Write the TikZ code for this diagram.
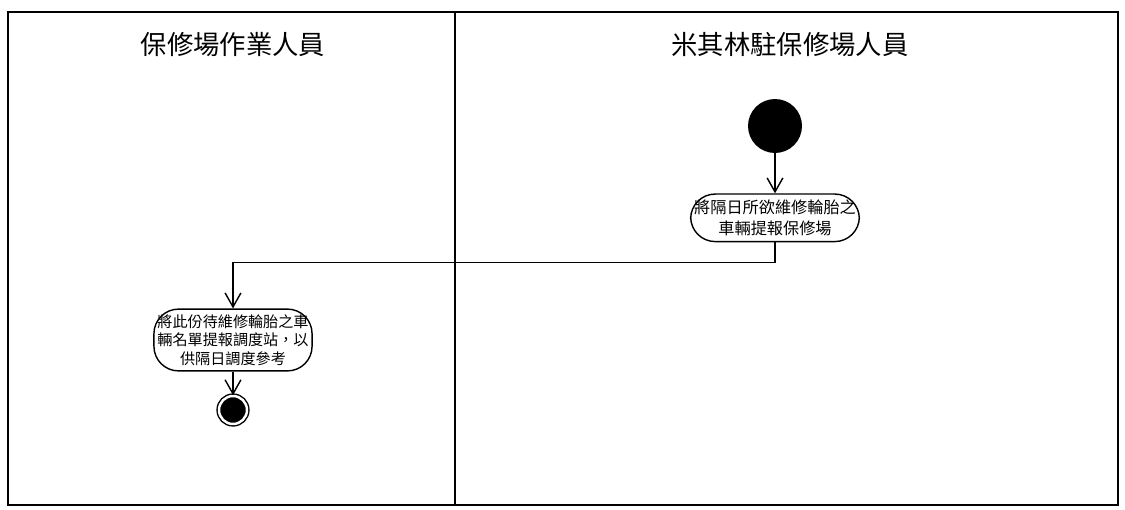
\documentclass[tikz,border=0pt]{standalone}
\usepackage{fontspec}
\newfontfamily\cjk{Noto Sans CJK TC}
\usetikzlibrary{arrows.meta,positioning}

\begin{document}
\begin{tikzpicture}[x=0.02cm,y=-0.02cm,node distance=0.8cm,>={Straight Barb[length=8pt,width=9pt]}]
\tikzset{
  lane/.style={font=\cjk\fontsize{15}{18}\selectfont},
  activity/.style={draw,line width=0.8pt,rounded corners=14pt,align=center,inner xsep=2pt,inner ysep=3pt,font=\cjk\fontsize{9.2}{12.5}\selectfont},
  initial/.style={circle,fill,minimum size=1.08cm,inner sep=0pt},
  final/.style={circle,draw,fill,double=white,double distance=1.4pt,line width=0.8pt,minimum size=0.56cm,inner sep=0pt},
  flow/.style={->,line width=0.8pt}
}
\useasboundingbox (0,0) rectangle (1125,510);
% swimlanes
\draw[line width=1.1pt] (8,12) rectangle (1118,505);
\draw[line width=1.1pt] (455,12) -- (455,505);
\node[lane] (worker) at (233,45) {保修場作業人員};
\node[lane] (michelin) at (790,45) {米其林駐保修場人員};
% actions
\node[initial] (start) at (775,126) {};
\node[activity,below=of start] (report) {將隔日所欲維修輪胎之\\車輛提報保修場};
\node[activity,font=\cjk\fontsize{8.6}{10.6}\selectfont] (notify) at (233,340) {將此份待維修輪胎之車\\輛名單提報調度站，以\\供隔日調度參考};
\node[final] (end) at (233,410) {};
\draw[flow] (start) -- (report);
\draw[flow] (report.south) -- ++(0,20) -| (notify.north);
\draw[flow] (notify) -- (end);
\end{tikzpicture}
\end{document}
